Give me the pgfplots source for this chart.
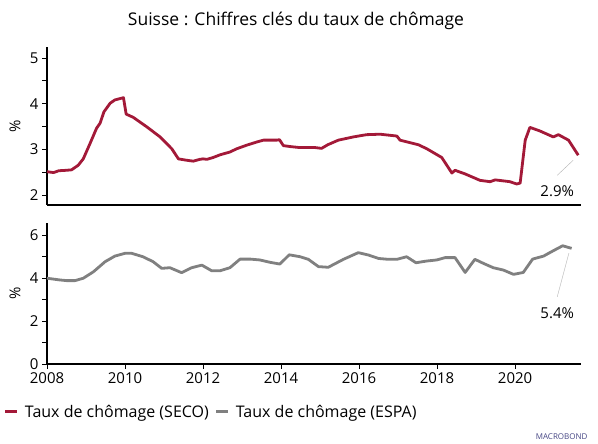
\documentclass[border=0pt]{standalone}
\usepackage{fontspec}
\setmainfont{Open Sans}
\usepackage{pgfplots}
\pgfplotsset{compat=1.18}

\definecolor{seco}{RGB}{163,25,56}
\definecolor{espa}{RGB}{128,128,128}

\pgfplotsset{
  panel/.style={
    width=534pt, scale only axis,
    xmin=2008, xmax=2021.69,
    axis lines=left, axis line style={-, line width=1.2pt},
    tick style={black, line width=0.8pt},
    tick align=outside, major tick length=5pt, minor tick length=5pt,
    /pgf/number format/assume math mode=true,
    /pgf/number format/1000 sep={},
    tick label style={font=\fontsize{15}{15}\selectfont},
    ylabel={\%},
    ylabel style={font=\fontsize{15}{15}\selectfont, at={(axis description cs:-0.06,0.5)}, anchor=center},
    clip=false,
  },
}

\begin{document}
\begin{tikzpicture}[x=1pt,y=1pt]
\path[use as bounding box, fill=white] (0,0) rectangle (598,444);

\node[font=\fontsize{17.5}{17.5}\selectfont] at (296,423) {Suisse : Chiffres clés du taux de chômage};

% top panel: SECO
\begin{axis}[panel, at={(47pt,239pt)}, anchor=south west,
  height=158pt, ymin=1.78, ymax=5.24,
  ytick={2,3,4,5}, minor ytick={2.5,3.5,4.5},
  xtick=\empty,
]
\addplot[seco, line width=2.8pt, line join=round] coordinates {
(2008.0,2.51) (2008.08,2.50) (2008.17,2.49) (2008.3,2.53) (2008.5,2.54) (2008.63,2.55)
(2008.8,2.65) (2008.93,2.79) (2009.1,3.12) (2009.27,3.46) (2009.36,3.57) (2009.46,3.82)
(2009.62,4.01) (2009.74,4.08) (2009.96,4.13) (2010.03,3.77) (2010.21,3.70) (2010.56,3.49)
(2010.9,3.27) (2011.2,3.01) (2011.37,2.79) (2011.58,2.76) (2011.75,2.74) (2011.92,2.78)
(2012.0,2.79) (2012.1,2.78) (2012.26,2.82) (2012.44,2.88) (2012.69,2.94) (2012.86,3.01)
(2013.12,3.09) (2013.38,3.16) (2013.55,3.20) (2013.89,3.20) (2013.96,3.21) (2014.06,3.08)
(2014.23,3.06) (2014.45,3.04) (2014.66,3.04) (2014.85,3.04) (2015.04,3.02) (2015.2,3.10)
(2015.47,3.20) (2015.85,3.27) (2016.19,3.32) (2016.54,3.33) (2016.97,3.29) (2017.05,3.20)
(2017.52,3.10) (2017.74,3.01) (2018.12,2.82) (2018.38,2.48) (2018.46,2.54) (2018.72,2.46)
(2019.10,2.32) (2019.36,2.29) (2019.49,2.33) (2019.87,2.29) (2020.04,2.24) (2020.13,2.26)
(2020.26,3.20) (2020.38,3.48) (2020.64,3.40) (2020.98,3.27) (2021.11,3.32) (2021.37,3.20)
(2021.62,2.87)
};
\draw[gray!60, line width=0.4pt] (axis cs:2021.08,2.43) -- (axis cs:2021.49,2.76);
\node[font=\fontsize{15}{15}\selectfont] at (axis cs:2021.08,2.09) {2.9\%};
\end{axis}

% bottom panel: ESPA
\begin{axis}[panel, at={(47pt,80pt)}, anchor=south west,
  height=141pt, ymin=0, ymax=6.56,
  ytick={0,2,4,6}, minor ytick={1,3,5},
  xtick={2008,2010,...,2020}, minor xtick={},
  legend style={at={(rel axis cs:-0.081,-0.34)}, anchor=west, draw=none, fill=none,
    font=\fontsize{16}{16}\selectfont, column sep=4pt, inner sep=0pt},
  legend columns=2,
  legend image code/.code={\draw[#1, line width=3pt] (0pt,0pt) -- (12pt,0pt);},
]
\addlegendimage{seco}
\addlegendentry{Taux de chômage (SECO)}
\addplot[espa, line width=2.8pt, line join=round] coordinates {
(2008.0,3.99) (2008.33,3.91) (2008.5,3.88) (2008.72,3.88) (2008.93,3.99) (2009.19,4.29)
(2009.49,4.76) (2009.74,5.02) (2010.0,5.15) (2010.17,5.15) (2010.46,4.99) (2010.72,4.76)
(2010.94,4.45) (2011.15,4.48) (2011.45,4.25) (2011.71,4.48) (2011.97,4.60) (2012.22,4.34)
(2012.44,4.34) (2012.69,4.48) (2012.95,4.88) (2013.21,4.88) (2013.46,4.84) (2013.72,4.73)
(2013.97,4.65) (2014.21,5.08) (2014.49,4.99) (2014.70,4.87) (2014.96,4.53) (2015.21,4.50)
(2015.60,4.87) (2015.98,5.18) (2016.24,5.07) (2016.50,4.91) (2016.75,4.87) (2016.97,4.87)
(2017.22,4.99) (2017.46,4.71) (2017.73,4.79) (2017.99,4.84) (2018.21,4.95) (2018.46,4.95)
(2018.72,4.26) (2018.97,4.87) (2019.19,4.68) (2019.44,4.48) (2019.70,4.37) (2019.96,4.17)
(2020.21,4.26) (2020.45,4.88) (2020.73,5.02) (2020.98,5.27) (2021.22,5.50) (2021.45,5.38)
};
\addlegendentry{Taux de chômage (ESPA)}
\draw[gray!60, line width=0.4pt] (axis cs:2021.08,3.12) -- (axis cs:2021.38,5.16);
\node[font=\fontsize{15}{15}\selectfont] at (axis cs:2021.08,2.37) {5.4\%};
\end{axis}

\node[anchor=east, font=\fontsize{8}{8}\selectfont, text=blue!30!gray!80!black] at (591,7) {MACROBOND};
\end{tikzpicture}
\end{document}
